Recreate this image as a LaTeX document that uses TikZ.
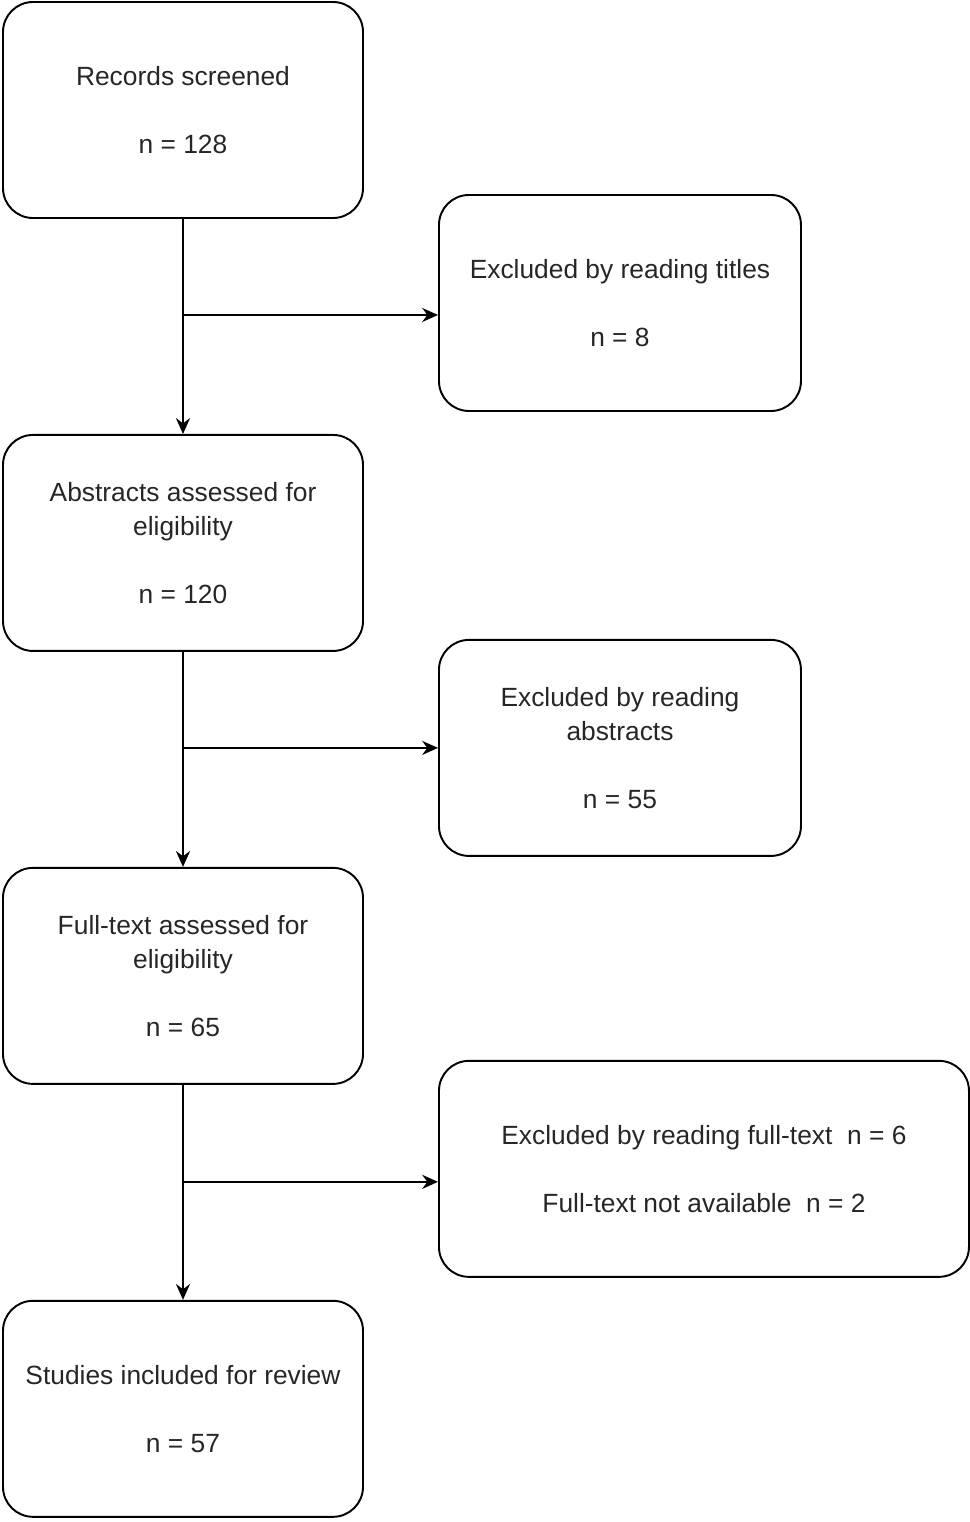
\documentclass[tikz,border=0pt]{standalone}
\usepackage{fontspec}
\setmainfont{Liberation Sans}
\usetikzlibrary{positioning,arrows.meta}

\begin{document}
\begin{tikzpicture}[node distance=4.3cm, >={Stealth[length=9pt,width=8pt]},
  box/.style={rectangle, rounded corners=0.6cm, draw, line width=1.1pt, minimum width=7.2cm, minimum height=4.32cm, align=center, inner sep=2pt, font=\fontsize{15}{19.3}\selectfont, text=black!85},
  excl/.style={box, minimum width=7.24cm}]

  \useasboundingbox (0,0) rectangle (19.4,-30.44);

  \node[box] at (3.66,-2.2) (screened) {Records screened\\ \mbox{}\\ n = 128};
  \node[box, below=of screened] (abstracts) {Abstracts assessed for\\eligibility\\ \mbox{}\\ n = 120};
  \node[box, below=of abstracts] (fulltext) {Full-text assessed for\\eligibility\\ \mbox{}\\ n = 65};
  \node[box, below=of fulltext] (included) {Studies included for review\\ \mbox{}\\ n = 57};

  \node[coordinate, below=1.92cm of screened] (split1) {};
  \node[coordinate, below=1.92cm of abstracts] (split2) {};
  \node[coordinate, below=1.94cm of fulltext] (split3) {};

  \node[excl, right=5.1cm of split1, yshift=0.24cm] (titles) {Excluded by reading titles\\ \mbox{}\\ n = 8};
  \node[excl, right=5.1cm of split2] (exabs) {Excluded by reading\\abstracts\\ \mbox{}\\ n = 55};
  \node[excl, minimum width=10.6cm, right=5.1cm of split3, yshift=0.26cm] (exfull) {Excluded by reading full-text~~n = 6\\ \mbox{}\\ Full-text not available~~n = 2};

  \draw[->, line width=1.1pt] (screened) -- (abstracts);
  \draw[->, line width=1.1pt] (abstracts) -- (fulltext);
  \draw[->, line width=1.1pt] (fulltext) -- (included);
  \draw[->, line width=1.1pt] (split1) -- (split1 -| titles.west);
  \draw[->, line width=1.1pt] (split2) -- (exabs);
  \draw[->, line width=1.1pt] (split3) -- (split3 -| exfull.west);
\end{tikzpicture}
\end{document}
